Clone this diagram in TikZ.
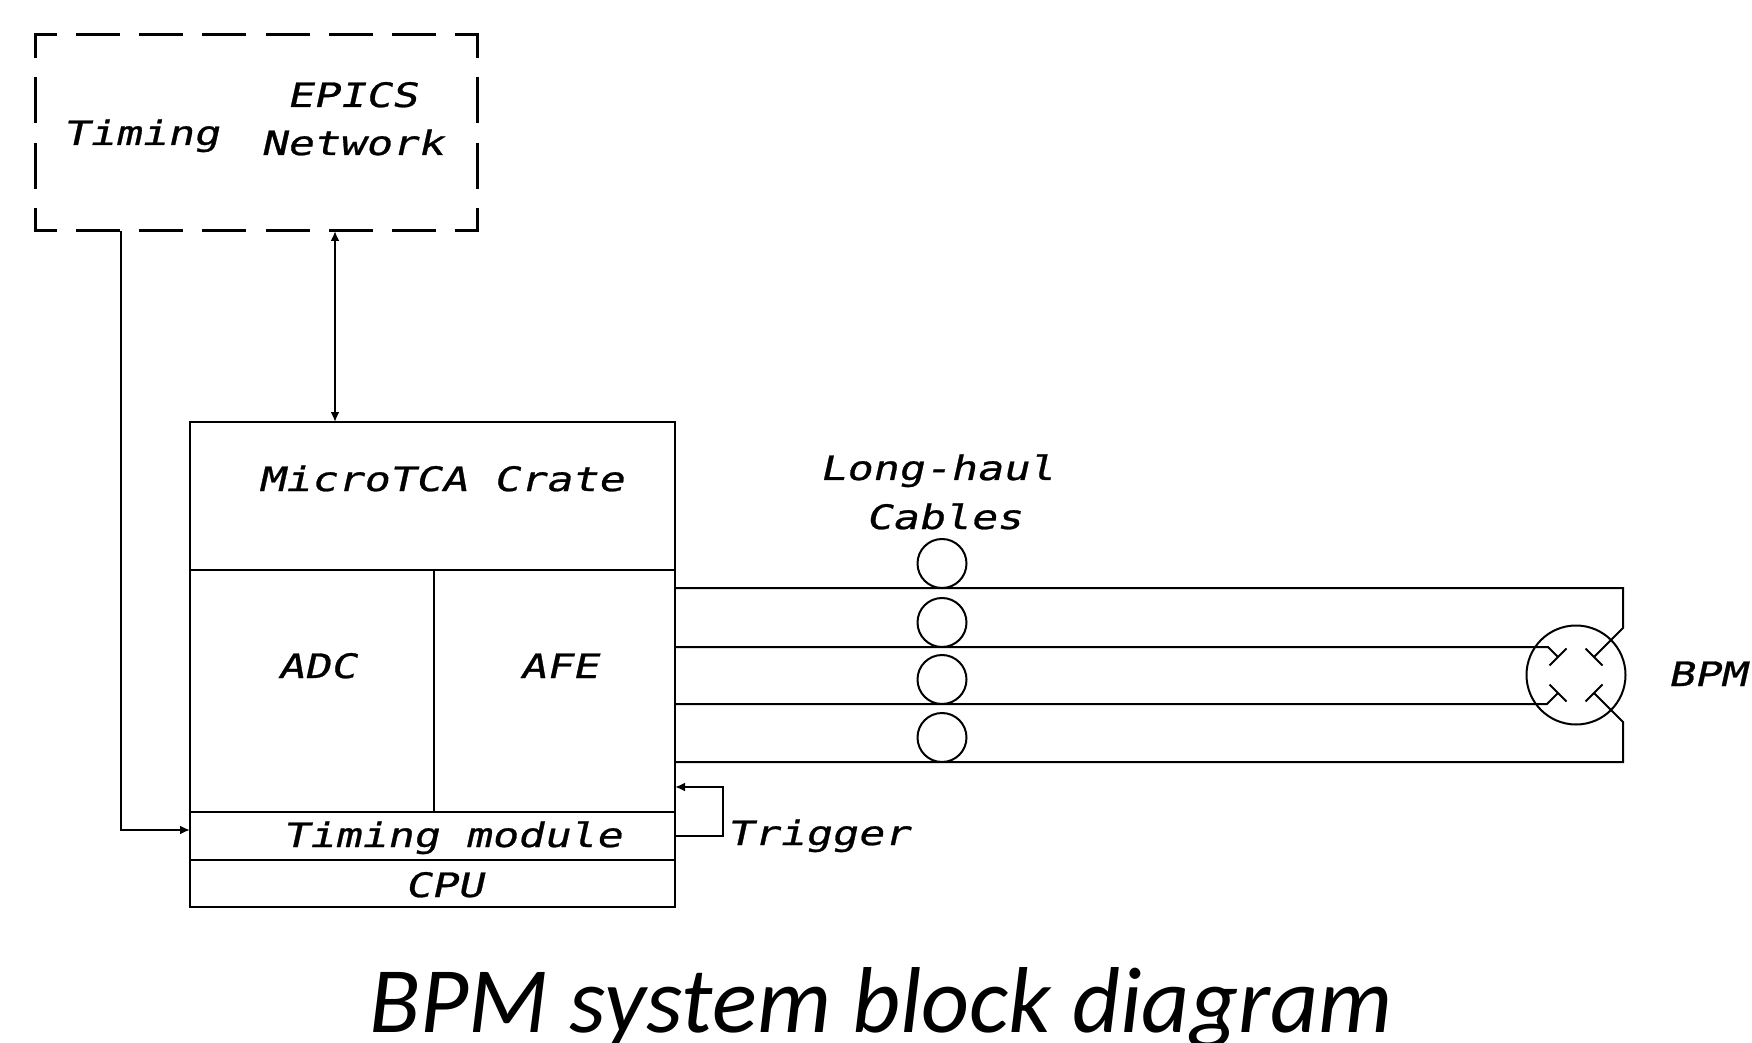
\documentclass[tikz,border=0pt]{standalone}
\usepackage{fontspec}
\usetikzlibrary{arrows.meta}
\newfontfamily\pxfont[FakeStretch=1.29,FakeSlant=0.22,FakeBold=0.8]{DejaVu Sans Mono}
\newfontfamily\capfont{Carlito}
\begin{document}
\begin{tikzpicture}[x=0.5pt,y=-0.5pt,line width=1pt,
  lbl/.style={font=\pxfont\fontsize{16.8}{18}\selectfont,inner sep=0,anchor=base},
  part/.style={draw,rectangle,inner sep=0,outer sep=0,line width=1pt},
  hside/.style={line width=1.5pt,line cap=rect,dash pattern=on 20.5pt off 11.07pt,dash phase=10.25pt},
  vside/.style={line width=1.5pt,line cap=rect,dash pattern=on 21.5pt off 11.17pt,dash phase=10.75pt},
  cable/.style={circle,draw,inner sep=0,minimum size=24.5pt,line width=1pt},
  bpmring/.style={circle,draw,inner sep=0,minimum size=49.5pt,line width=1pt},
  tip/.style={-{Latex[length=5pt,width=4.5pt]}},
  dtip/.style={{Latex[length=5pt,width=4.5pt]}-{Latex[length=5pt,width=4.5pt]}}]
\useasboundingbox (0,0) rectangle (1752,1043);
% dashed external box
\node[inner sep=0,outer sep=0,minimum width=221pt,minimum height=98pt] (ext) at (256,133) {};
\draw[hside] (ext.north west) -- (ext.north east);
\draw[hside] (ext.south west) -- (ext.south east);
\draw[vside] (ext.north west) -- (ext.south west);
\draw[vside] (ext.north east) -- (ext.south east);
\node[lbl] (ttim) at (141,145) {Timing};
\node[lbl] (tepics) at (352,107) {EPICS};
\node[lbl] (tnet) at (352,155) {Network};
% crate
\node[part,minimum width=242.5pt,minimum height=74pt] (micro) at (432.5,496) {};
\node[part,minimum width=122pt,minimum height=121pt] (adc) at (312,691) {};
\node[part,minimum width=120.5pt,minimum height=121pt] (afe) at (554.5,691) {};
\node[part,minimum width=242.5pt,minimum height=24pt] (tmod) at (432.5,836) {};
\node[part,minimum width=242.5pt,minimum height=23.5pt] (cpu) at (432.5,883.5) {};
\node[lbl] (tmicro) at (441,491) {MicroTCA Crate};
\node[lbl] (tadc) at (317,678) {ADC};
\node[lbl] (tafe) at (559,678) {AFE};
\node[lbl] (ttmod) at (452,847) {Timing module};
\node[lbl] (tcpu) at (444,897) {CPU};
% timing and network connectors
\coordinate (tbend) at (121,830);
\draw[tip] (tbend |- ext.south) -- (tbend) -- (tmod.west |- tbend);
\coordinate (ep) at (335,300);
\draw[dtip] (ep |- ext.south) -- (ep |- micro.north);
% trigger loop
\coordinate (trg) at (723,787);
\draw[tip] (tmod.east) -- (trg |- tmod.east) -- (trg) -- (afe.east |- trg);
\node[lbl] (ttrig) at (818,845) {Trigger};
% cables
\coordinate (k1) at (1623,588);
\coordinate (k2) at (1548,647);
\coordinate (k3) at (1547,704);
\coordinate (k4) at (1623,762);
\draw (afe.east |- k1) -- (k1) -- (1623,628) -- (1594,657);
\draw (afe.east |- k2) -- (k2) -- (1558,657);
\draw (afe.east |- k3) -- (k3) -- (1558,693);
\draw (afe.east |- k4) -- (k4) -- (1623,722) -- (1594,693);
\node[cable] (c1) at (942,563.5) {};
\node[cable] (c2) at (942,622.5) {};
\node[cable] (c3) at (942,679.5) {};
\node[cable] (c4) at (942,737.5) {};
\node[lbl] (tlong) at (937,480) {Long-haul};
\node[lbl] (tcab) at (944,529) {Cables};
% BPM
\node[bpmring] (bpm) at (1576,675) {};
\draw (1549.5,665.5) -- (1566.5,648.5);
\draw (1585.5,648.5) -- (1602.5,665.5);
\draw (1549.5,684.5) -- (1566.5,701.5);
\draw (1585.5,701.5) -- (1602.5,684.5);
\node[lbl] (tbpm) at (1707,686) {BPM};
% caption
\node[font=\capfont\itshape\fontsize{46.8}{50}\selectfont,inner sep=0,anchor=base] (cap) at (881,1032) {BPM system block diagram};
\end{tikzpicture}
\end{document}
